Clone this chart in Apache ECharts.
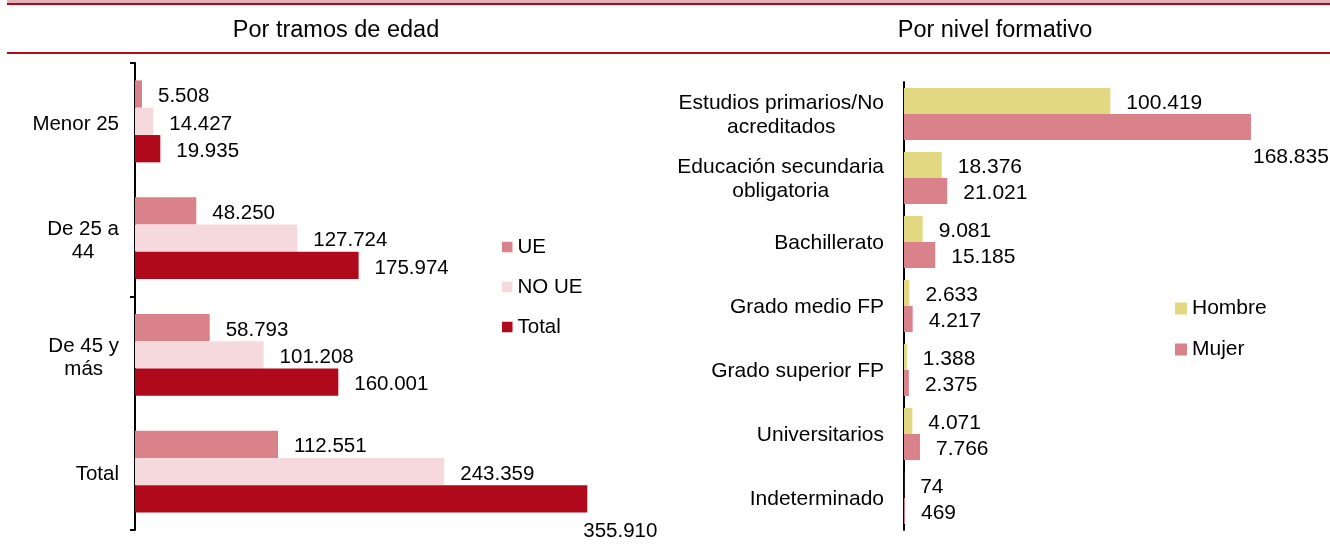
<!DOCTYPE html>
<html>
<head>
<meta charset="utf-8">
<script src="https://cdn.jsdelivr.net/npm/echarts@6/dist/echarts.min.js"></script>
<style>
html,body{margin:0;padding:0;background:#fff;}
#c{width:1330px;height:549px;}
</style>
</head>
<body>
<div id="c"></div>
<script>
var ageCats = ['Menor 25', 'De 25 a\n44', 'De 45 y\nmás', 'Total'];
var ueVals = [5508, 48250, 58793, 112551];
var noUeVals = [14427, 127724, 101208, 243359];
var totalVals = [19935, 175974, 160001, 355910];

var eduCats = ['Estudios primarios/No\nacreditados', 'Educación secundaria\nobligatoria', 'Bachillerato', 'Grado medio FP', 'Grado superior FP', 'Universitarios', 'Indeterminado'];
var hombreVals = [100419, 18376, 9081, 2633, 1388, 4071, 74];
var mujerVals = [168835, 21021, 15185, 4217, 2375, 7766, 469];

var titles = ['Por tramos de edad', 'Por nivel formativo'];

var FONT = '"Liberation Sans", Arial, sans-serif';
var C_UE = '#d9828a', C_NOUE = '#f5d9dc', C_TOT = '#b0091c', C_H = '#e3d882', C_M = '#d9828a';

function fmt(v) { return String(v).replace(/\B(?=(\d{3})+(?!\d))/g, '.'); }
function catFmt(v) { return v.split('\n').map(function (l) { return '{c|' + l + '}'; }).join('\n'); }

function barSeries(name, vals, color, xi, fs, special) {
  return {
    type: 'bar', name: name, xAxisIndex: xi, yAxisIndex: xi,
    data: vals.map(function (v, i) {
      if (special && special.index === i) return { value: v, label: { offset: special.offset } };
      return v;
    }),
    itemStyle: { color: color },
    barGap: '0%',
    barCategoryGap: xi === 0 ? '29.8%' : '18.75%',
    label: { show: true, position: 'right', distance: 16, offset: [0, 2.5], color: '#000', fontSize: fs, fontFamily: FONT,
      formatter: function (p) { return fmt(p.value); } },
    emphasis: { disabled: true },
    animation: false
  };
}

var chart = echarts.init(document.getElementById('c'), null, { renderer: 'canvas' });
chart.setOption({
  backgroundColor: '#fff',
  animation: false,
  textStyle: { fontFamily: FONT },
  title: [
    { text: titles[0], left: 336, top: 19, textAlign: 'center', padding: 0,
      textStyle: { fontSize: 23.5, fontWeight: 'normal', color: '#000', fontFamily: FONT } },
    { text: titles[1], left: 995, top: 19, textAlign: 'center', padding: 0,
      textStyle: { fontSize: 23.5, fontWeight: 'normal', color: '#000', fontFamily: FONT } }
  ],
  graphic: [
    { type: 'rect', silent: true, shape: { x: 7, y: 0, width: 1323, height: 3 }, style: { fill: '#e2b3b7' } },
    { type: 'rect', silent: true, shape: { x: 7, y: 3, width: 1323, height: 2 }, style: { fill: '#b0091c' } },
    { type: 'rect', silent: true, shape: { x: 7, y: 52, width: 1323, height: 2 }, style: { fill: '#b0091c' } }
  ],
  legend: [
    { data: ['UE', 'NO UE', 'Total'], orient: 'vertical', left: 502, top: 236.5, itemWidth: 10.5, itemHeight: 10.5,
      itemGap: 19, icon: 'rect', padding: 0, selectedMode: false,
      textStyle: { fontSize: 20.5, color: '#000', fontFamily: FONT } },
    { data: ['Hombre', 'Mujer'], orient: 'vertical', left: 1175, top: 298, itemWidth: 12, itemHeight: 12,
      itemGap: 20, icon: 'rect', padding: 0, selectedMode: false,
      textStyle: { fontSize: 21, color: '#000', fontFamily: FONT } }
  ],
  grid: [
    { left: 135, top: 63, width: 508.3, height: 467, containLabel: false },
    { left: 904, top: 82, width: 411, height: 448, containLabel: false }
  ],
  xAxis: [
    { gridIndex: 0, type: 'value', min: 0, max: 400000, show: false },
    { gridIndex: 1, type: 'value', min: 0, max: 200000, show: false }
  ],
  yAxis: [
    { gridIndex: 0, type: 'category', inverse: true, data: ageCats,
      axisLine: { show: true, lineStyle: { color: '#000', width: 2 } },
      axisTick: { show: true, interval: 1, length: 5, lineStyle: { color: '#000', width: 2 } },
      axisLabel: { margin: 16, color: '#000', fontSize: 20.5, formatter: catFmt, padding: [5, 0, 0, 0],
        rich: { c: { align: 'center', fontSize: 20.5, lineHeight: 23, color: '#000', fontFamily: FONT } } },
      splitLine: { show: false } },
    { gridIndex: 1, type: 'category', inverse: true, data: eduCats,
      axisLine: { show: true, lineStyle: { color: '#000', width: 2 } },
      axisTick: { show: false },
      axisLabel: { margin: 20, color: '#000', fontSize: 21, formatter: catFmt, padding: [3, 0, 0, 0],
        rich: { c: { align: 'center', fontSize: 21, lineHeight: 24, color: '#000', fontFamily: FONT } } },
      splitLine: { show: false } }
  ],
  series: [
    barSeries('UE', ueVals, C_UE, 0, 20.5),
    barSeries('NO UE', noUeVals, C_NOUE, 0, 20.5),
    barSeries('Total', totalVals, C_TOT, 0, 20.5, { index: 3, offset: [-20, 32] }),
    barSeries('Hombre', hombreVals, C_H, 1, 21),
    barSeries('Mujer', mujerVals, C_M, 1, 21, { index: 0, offset: [-14, 30] })
  ]
});
</script>
</body>
</html>
